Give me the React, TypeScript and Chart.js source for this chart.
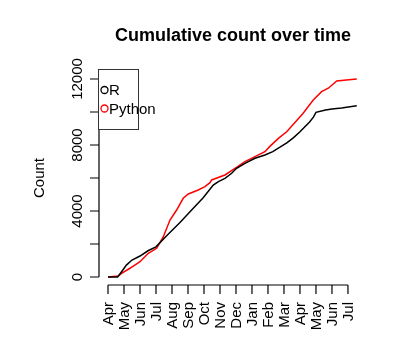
import React, { useEffect, useRef } from "react";
import { Chart, registerables } from "chart.js";

Chart.register(...registerables);

const monthLabels = ["Apr", "May", "Jun", "Jul", "Aug", "Sep", "Oct", "Nov", "Dec", "Jan", "Feb", "Mar", "Apr", "May", "Jun", "Jul"];
const yTickValues = [0, 2000, 4000, 6000, 8000, 10000, 12000];
const yLabelValues = [0, 4000, 8000, 12000];

// x = months since first April (fractional), y = cumulative count
const rX = [0, 0.6, 0.85, 1.15, 1.5, 2.0, 2.5, 3.0, 3.65, 4.5, 5.33, 5.95, 6.58, 6.9, 7.31, 7.73, 8.04, 8.56, 9.19, 9.81, 10.3, 10.8, 11.2, 11.6, 12.0, 12.6, 12.85, 13.0, 13.6, 14.0, 14.6, 15.55];
const rY = [0, 0, 320, 720, 1030, 1270, 1590, 1830, 2480, 3300, 4164, 4800, 5576, 5776, 5982, 6285, 6588, 6891, 7194, 7394, 7600, 7900, 8150, 8450, 8800, 9400, 9700, 9980, 10120, 10180, 10240, 10380];

const pyX = [0, 0.64, 0.85, 1.37, 2.0, 2.52, 3.04, 3.46, 3.875, 4.29, 4.7, 5.02, 5.64, 6.06, 6.375, 6.48, 7.31, 7.94, 8.56, 9.19, 9.81, 10.1, 10.65, 11.17, 12.2, 12.83, 13.35, 13.77, 14.3, 14.9, 15.55];
const pyY = [0, 60, 220, 530, 930, 1440, 1740, 2440, 3455, 4061, 4770, 5030, 5273, 5473, 5715, 5880, 6182, 6588, 6988, 7291, 7594, 7900, 8400, 8800, 9920, 10730, 11230, 11440, 11880, 11940, 12000];

const seriesNames = ["R", "Python"];
const seriesColors = ["#000000", "#ff0000"];

const FONT = '"Liberation Sans", Arial, Helvetica, sans-serif';

const rAxesPlugin = {
  id: "rAxes",
  afterDraw(chart: any) {
    const ctx = chart.ctx as CanvasRenderingContext2D;
    const xs = chart.scales.x;
    const ys = chart.scales.y;
    const area = chart.chartArea;
    ctx.save();
    ctx.strokeStyle = "#000";
    ctx.fillStyle = "#000";
    ctx.lineWidth = 1.2;

    // Y axis
    const y0 = ys.getPixelForValue(yTickValues[0]);
    const y1 = ys.getPixelForValue(yTickValues[yTickValues.length - 1]);
    const axX = area.left;
    ctx.beginPath();
    ctx.moveTo(axX, y0);
    ctx.lineTo(axX, y1);
    for (const v of yTickValues) {
      const py = ys.getPixelForValue(v);
      ctx.moveTo(axX, py);
      ctx.lineTo(axX - 9, py);
    }
    ctx.stroke();
    ctx.font = `15px ${FONT}`;
    ctx.textAlign = "center";
    ctx.textBaseline = "alphabetic";
    for (const v of yLabelValues) {
      const py = ys.getPixelForValue(v);
      ctx.save();
      ctx.translate(axX - 17.5, py);
      ctx.rotate(-Math.PI / 2);
      ctx.fillText(String(v), 0, 0);
      ctx.restore();
    }

    // X axis
    const axY = area.bottom;
    const x0 = xs.getPixelForValue(0);
    const x1 = xs.getPixelForValue(monthLabels.length - 1);
    ctx.beginPath();
    ctx.moveTo(x0, axY);
    ctx.lineTo(x1, axY);
    monthLabels.forEach((_, i) => {
      const px = xs.getPixelForValue(i);
      ctx.moveTo(px, axY);
      ctx.lineTo(px, axY + 9);
    });
    ctx.stroke();
    ctx.textAlign = "right";
    ctx.textBaseline = "middle";
    monthLabels.forEach((lab, i) => {
      const px = xs.getPixelForValue(i);
      ctx.save();
      ctx.translate(px + 0.5, axY + 17);
      ctx.rotate(-Math.PI / 2);
      ctx.fillText(lab, 0, 0);
      ctx.restore();
    });

    // Y title
    ctx.save();
    ctx.translate(43.5, (area.top + area.bottom) / 2);
    ctx.rotate(-Math.PI / 2);
    ctx.textAlign = "center";
    ctx.textBaseline = "alphabetic";
    ctx.fillText("Count", 0, 0);
    ctx.restore();

    // Main title
    ctx.font = `bold 18px ${FONT}`;
    ctx.textAlign = "center";
    ctx.textBaseline = "alphabetic";
    ctx.fillText("Cumulative count over time", (area.left + area.right) / 2, 41);

    // Legend box
    const bx = area.left - 0.5;
    const by = 69.5;
    ctx.fillStyle = "#fff";
    ctx.fillRect(bx, by, 40, 60);
    ctx.strokeStyle = "#333";
    ctx.lineWidth = 1;
    ctx.strokeRect(bx, by, 40, 60);
    ctx.font = `15px ${FONT}`;
    ctx.textAlign = "left";
    ctx.textBaseline = "alphabetic";
    seriesNames.forEach((name, i) => {
      const cy = 90 + i * 18.5;
      ctx.strokeStyle = seriesColors[i];
      ctx.lineWidth = 1.3;
      ctx.beginPath();
      ctx.arc(104.5, cy, 3.5, 0, Math.PI * 2);
      ctx.stroke();
      ctx.fillStyle = "#000";
      ctx.fillText(name, 109, cy + 5.3);
    });
    ctx.restore();
  },
};

export default function App() {
  const ref = useRef<HTMLCanvasElement | null>(null);
  useEffect(() => {
    if (!ref.current) return;
    const chart = new Chart(ref.current, {
      type: "line",
      data: {
        datasets: [
          {
            label: seriesNames[0],
            data: rX.map((x, i) => ({ x, y: rY[i] })),
            borderColor: seriesColors[0],
            borderWidth: 1.5,
            pointRadius: 0,
            tension: 0,
          },
          {
            label: seriesNames[1],
            data: pyX.map((x, i) => ({ x, y: pyY[i] })),
            borderColor: seriesColors[1],
            borderWidth: 1.5,
            pointRadius: 0,
            tension: 0,
          },
        ],
      },
      options: {
        animation: false,
        responsive: false,
        devicePixelRatio: 1,
        layout: { padding: { left: 99, right: 34, top: 71, bottom: 73 } },
        scales: {
          x: { type: "linear", min: -0.5625, max: 16.19, display: false },
          y: { type: "linear", min: -485, max: 12485, display: false },
        },
        plugins: {
          legend: { display: false },
          title: { display: false },
          tooltip: { enabled: false },
        },
      },
      plugins: [rAxesPlugin],
    });
    return () => chart.destroy();
  }, []);
  return (
    <div style={{ position: "absolute", left: 0, top: 0, width: 401, height: 358, background: "#fff" }}>
      <canvas ref={ref} width={401} height={358} style={{ display: "block" }} />
    </div>
  );
}
